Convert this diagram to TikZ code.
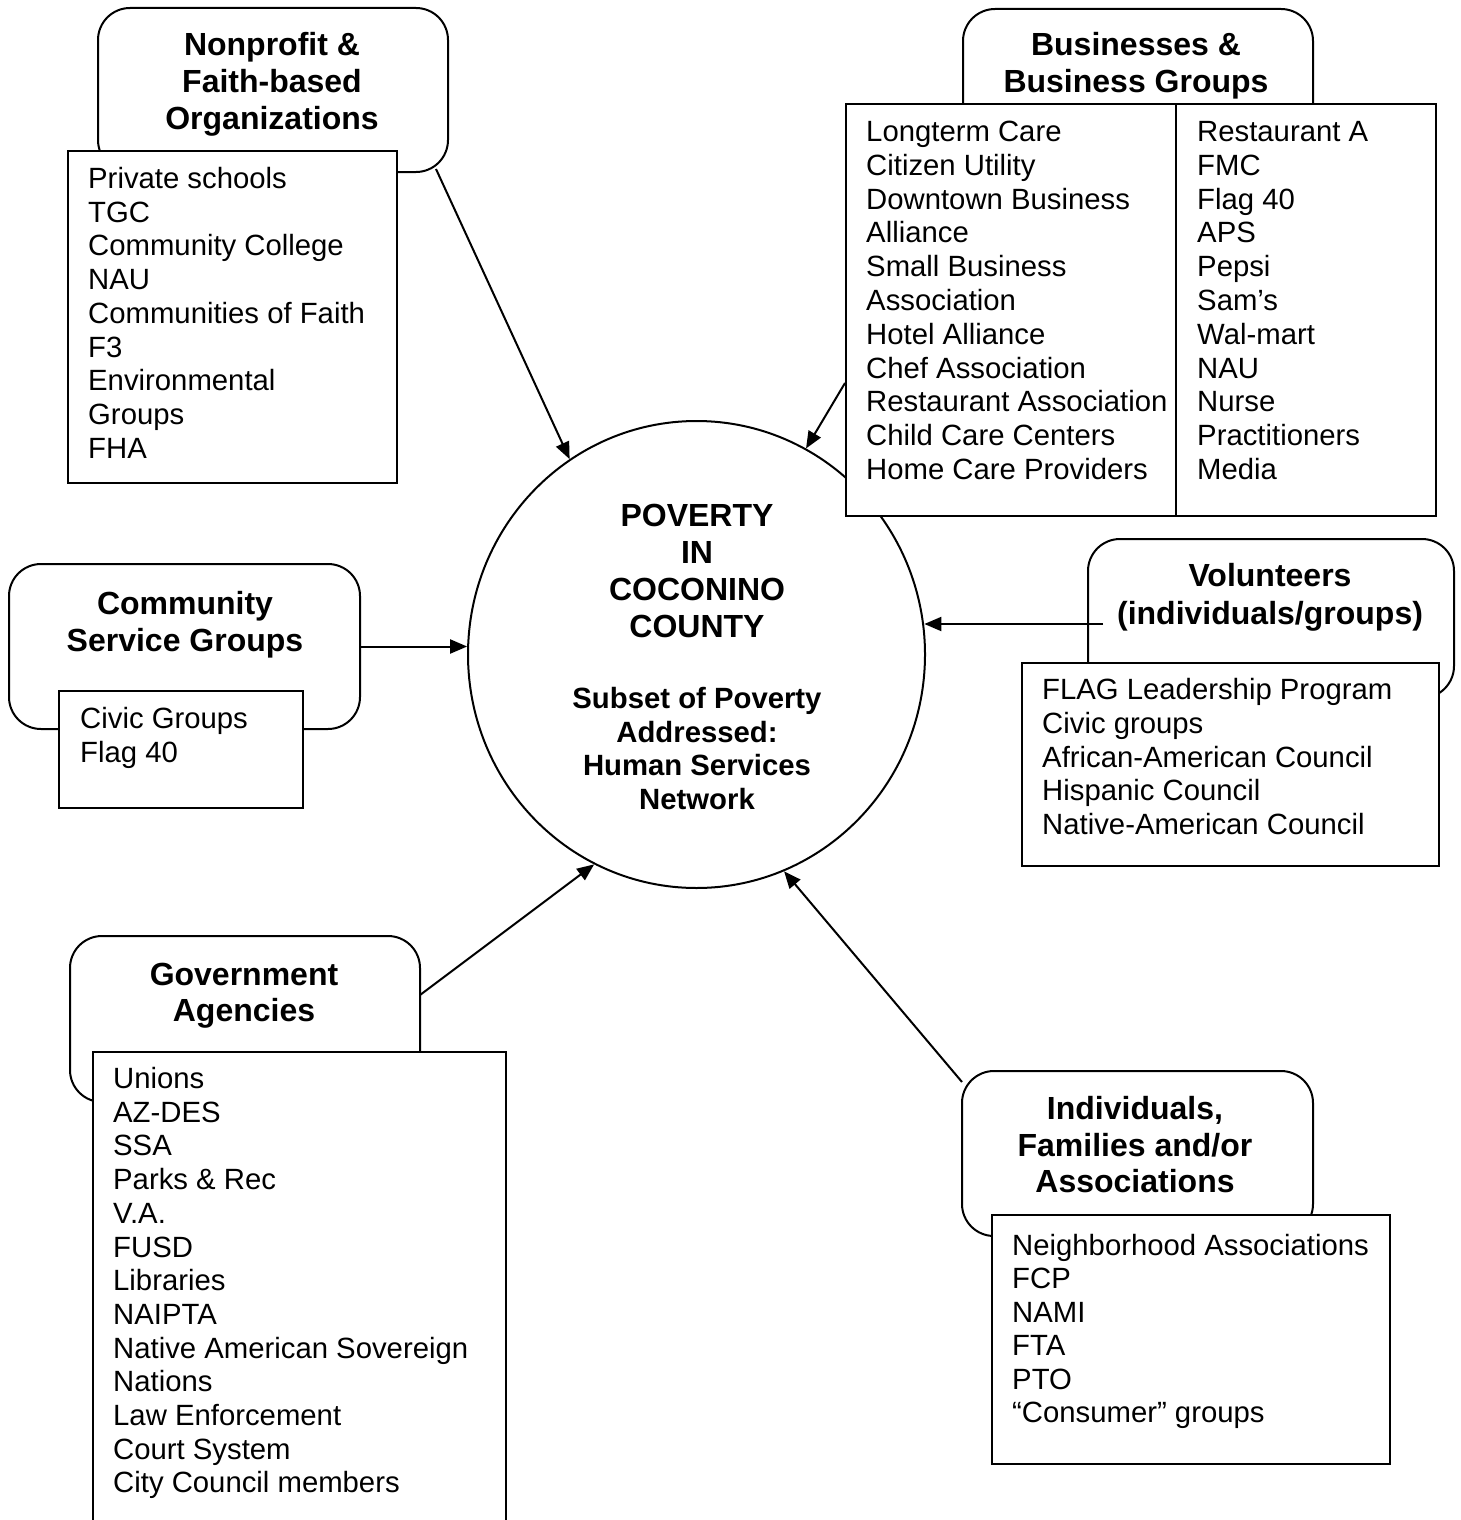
\documentclass[tikz,border=0pt]{standalone}
\usepackage{fontspec}
\setmainfont{Liberation Sans}
\usetikzlibrary{arrows.meta,shapes.geometric}
\tikzset{
  rbox/.style={draw, fill=white, line width=2pt, rounded corners=32pt, inner sep=0pt, anchor=north west},
  lbox/.style={draw, fill=white, line width=2pt, inner sep=0pt, anchor=north west},
  ttl/.style={font=\fontsize{32}{37}\selectfont\bfseries, anchor=base, inner sep=0pt},
  sub/.style={font=\fontsize{29.3}{33.7}\selectfont\bfseries, anchor=base, inner sep=0pt},
  item/.style={font=\fontsize{29.3}{33.7}\selectfont, anchor=base west, inner sep=0pt},
  arr/.style={-{Triangle[length=17pt,width=14pt]}, line width=2pt},
}
\begin{document}
\begin{tikzpicture}[x=1pt,y=-1pt]
\clip (0,0) rectangle (1461,1520);
\fill[white] (0,0) rectangle (1461,1520);

% rounded group boxes
\node[rbox, minimum width=350pt, minimum height=164pt] (npr) at (97,7) {};
\node[rbox, minimum width=350pt, minimum height=142pt] (bur) at (962,8) {};
\node[rbox, minimum width=351pt, minimum height=165pt] (csr) at (8,563) {};
\node[rbox, minimum width=366pt, minimum height=159pt] (vor) at (1087,538) {};
\node[rbox, minimum width=350pt, minimum height=166pt] (gar) at (69,935) {};
\node[rbox, minimum width=351pt, minimum height=165pt] (inr) at (961,1070) {};

% central circle
\node[draw, ellipse, line width=2pt, inner sep=0pt, minimum width=457pt, minimum height=467pt] (c) at (696.5,654.5) {};

% list boxes
\node[lbox, minimum width=329pt, minimum height=332pt] (npl) at (67,150) {};
\node[lbox, minimum width=590pt, minimum height=412pt] (bul) at (845,103) {};
\node[lbox, minimum width=244pt, minimum height=117pt] (csl) at (58,690) {};
\node[lbox, minimum width=417pt, minimum height=203pt] (vol) at (1021,662) {};
\node[lbox, minimum width=413pt, minimum height=489pt] (gal) at (92,1051) {};
\node[lbox, minimum width=398pt, minimum height=249pt] (inl) at (991,1214) {};
\draw[line width=2pt] (bul.north west) ++(331,0) -- ++(0,412);

% titles
\node[ttl] (npt1) at (272,55.5) {Nonprofit \&};
\node[ttl] (npt2) at (272,92.5) {Faith-based};
\node[ttl] (npt3) at (272,129.5) {Organizations};
\node[ttl] (but1) at (1136,55.5) {Businesses \&};
\node[ttl] (but2) at (1136,92.5) {Business Groups};
\node[ttl] (cst1) at (185,614.5) {Community};
\node[ttl] (cst2) at (185,651.5) {Service Groups};
\node[ttl] (vot1) at (1270,586.5) {Volunteers};
\node[ttl] (vot2) at (1270,624.5) {(individuals/groups)};
\node[ttl] (gat1) at (244,985.5) {Government};
\node[ttl] (gat2) at (244,1021.5) {Agencies};
\node[ttl] (int1) at (1135,1119.5) {Individuals,};
\node[ttl] (int2) at (1135,1156) {Families and/or};
\node[ttl] (int3) at (1135,1192.5) {Associations};

% center text
\node[ttl] (ct1) at (697,526.5) {POVERTY};
\node[ttl] (ct2) at (697,563.5) {IN};
\node[ttl] (ct3) at (697,600.5) {COCONINO};
\node[ttl] (ct4) at (697,637.5) {COUNTY};
\node[sub] (cs1) at (697,708.5) {Subset of Poverty};
\node[sub] (cs2) at (697,742) {Addressed:};
\node[sub] (cs3) at (697,775.5) {Human Services};
\node[sub] (cs4) at (697,809) {Network};

% lists
\foreach \t [count=\i from 0] in {Private schools, TGC, Community College, NAU, Communities of Faith, F3, Environmental, Groups, FHA}
  \node[item] (np\i) at (88,{188.5+\i*33.7}) {\t};
\foreach \t [count=\i from 0] in {Longterm Care, Citizen Utility, Downtown Business, Alliance, Small Business, Association, Hotel Alliance, Chef Association, Restaurant Association, Child Care Centers, Home Care Providers}
  \node[item] (ba\i) at (866,{141.5+\i*33.8}) {\t};
\foreach \t [count=\i from 0] in {Restaurant A, FMC, Flag 40, APS, Pepsi, Sam’s, Wal-mart, NAU, Nurse, Practitioners, Media}
  \node[item] (bb\i) at (1197,{141.5+\i*33.8}) {\t};
\foreach \t [count=\i from 0] in {Civic Groups, Flag 40}
  \node[item] (csi\i) at (80,{728.5+\i*33.7}) {\t};
\foreach \t [count=\i from 0] in {FLAG Leadership Program, Civic groups, African-American Council, Hispanic Council, Native-American Council}
  \node[item] (vo\i) at (1042,{699.5+\i*33.8}) {\t};
\foreach \t [count=\i from 0] in {Unions, AZ-DES, SSA, Parks \& Rec, V.A., FUSD, Libraries, NAIPTA, Native American Sovereign, Nations, Law Enforcement, Court System, City Council members}
  \node[item] (ga\i) at (113,{1088.5+\i*33.7}) {\t};
\foreach \t [count=\i from 0] in {Neighborhood Associations, FCP, NAMI, FTA, PTO, “Consumer” groups}
  \node[item] (in\i) at (1012,{1255.5+\i*33.4}) {\t};

% connectors
\coordinate (nps) at (436,169);
\coordinate (bus) at (845,383);
\coordinate (vos) at (1103,624);
\coordinate (gas) at (420,995);
\coordinate (ins) at (962,1082);
\draw[arr] (nps) -- (c.123.2);
\draw[arr] (bus) -- (c.62.4);
\draw[arr] (vos) -- (vos -| c.7.8);
\draw[arr] (csr.east |- c.178) -- (c.178);
\draw[arr] (gas) -- (c.244.1);
\draw[arr] (ins) -- (c.292.6);
\end{tikzpicture}
\end{document}
